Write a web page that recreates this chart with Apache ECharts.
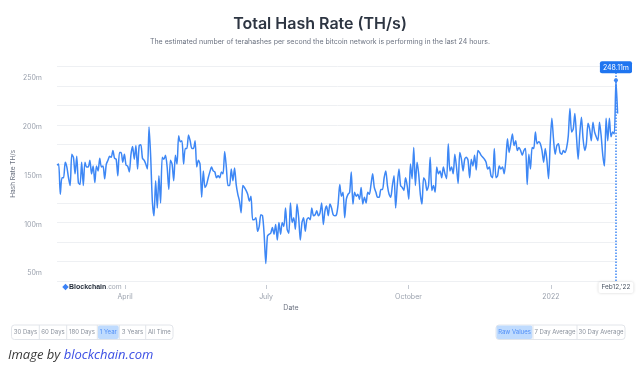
<!DOCTYPE html>
<html><head><meta charset="utf-8">
<script src="https://cdn.jsdelivr.net/npm/echarts@6/dist/echarts.min.js"></script>
<style>html,body{margin:0;padding:0;background:#fff}#c{width:640px;height:372px}</style>
</head><body><div id="c"></div>
<script>
// ---------- data ----------
const startDate = '2021-02-16';
const peakDate = '2022-02-12';
const hashRate = [
161,162,131,148,148,164,159,148,140,172,
169,152,170,143,141,164,140,164,159,159,
166,152,160,143,160,155,168,159,160,147,
162,166,170,169,176,168,167,150,174,174,
164,172,161,160,154,172,180,167,181,157,
181,182,168,166,162,157,200,169,124,109,
145,117,150,122,169,167,171,159,136,166,
162,145,171,162,191,185,186,162,178,178,
192,186,178,178,186,159,166,162,128,
155,138,141,148,154,159,155,154,148,150,
148,154,152,175,159,140,140,157,145,158,
141,131,124,112,140,138,135,131,124,129,
105,105,107,93,98,110,109,90,60,88,
90,91,97,90,100,84,102,90,102,98,
117,95,91,122,102,107,95,121,107,84,
102,107,93,105,107,105,117,109,110,114,
109,112,122,100,114,119,109,121,117,110,
109,110,121,141,129,133,107,126,131,
133,154,121,133,129,131,126,138,121,128,
122,133,131,141,152,138,133,128,128,136,
136,148,155,140,131,128,140,150,117,141,
157,140,138,135,148,140,126,162,147,
179,140,164,152,131,121,148,145,135,140,
169,135,140,133,159,152,155,148,159,152,
147,183,155,159,152,172,159,142,174,167,
155,167,169,166,148,167,160,171,156,176,
174,171,169,167,164,157,159,150,
148,178,148,150,160,157,159,152,166,188,
174,183,193,181,186,176,179,176,171,176,
178,141,172,157,179,178,195,183,185,183,
176,164,178,166,147,183,209,188,172,181,
183,174,172,176,174,179,191,219,195,198,
214,190,167,193,210,188,176,183,204,198,
186,205,195,190,186,205,191,171,160,209,
186,209,190,195,193,
248.11,214
];
const yLabelValues = [50, 100, 150, 200, 250];
const xTickDates = ['2021-04-01', '2021-07-01', '2021-10-01', '2022-01-01'];
const xTickLabels = ['April', 'July', 'October', '2022'];
const peakLabel = '248.11m';
const peakDateLabel = "Feb12,'22";
const rangeButtons = ['30 Days', '60 Days', '180 Days', '1 Year', '3 Years', 'All Time'];
const averageButtons = ['Raw Values', '7 Day Average', '30 Day Average'];

// ---------- build ----------
const toT = d => Date.parse(d + 'T00:00:00Z');
const t0 = toT(startDate), tPeak = toT(peakDate);
const peakIndex = hashRate.length - 2;
const step = (tPeak - t0) / peakIndex;
const seriesData = hashRate.map((v, i) => [t0 + i * step, v]);
const tEnd = t0 + (hashRate.length - 1) * step;
const tickTimes = xTickDates.map(toT);
const yMin = 42, yMax = 262;

function nearestLabel(v) {
  let best = 0, bd = Infinity;
  tickTimes.forEach((t, i) => { const d = Math.abs(t - v); if (d < bd) { bd = d; best = i; } });
  return bd < 86400000 * 2 ? xTickLabels[best] : '';
}

function buttonGroup(labels, edges, selected, y, h) {
  const els = [];
  els.push({ type: 'rect', shape: { x: edges[0], y: y, width: edges[edges.length - 1] - edges[0], height: h, r: 3 },
    style: { fill: '#fff', stroke: '#e2e5ea', lineWidth: 1 } });
  labels.forEach((lab, i) => {
    const x0 = edges[i], x1 = edges[i + 1];
    if (i === selected) {
      els.push({ type: 'rect', shape: { x: x0 + 0.5, y: y + 0.5, width: x1 - x0 - 1, height: h - 1, r: 2 },
        style: { fill: '#bfdbfe' } });
    }
    if (i > 0) {
      els.push({ type: 'line', shape: { x1: x0, y1: y, x2: x0, y2: y + h }, style: { stroke: '#e2e5ea', lineWidth: 1 } });
    }
    els.push({ type: 'text', x: (x0 + x1) / 2, y: y + h / 2,
      style: { text: lab, align: 'center', verticalAlign: 'middle', fontSize: 6, fontFamily: 'Inter',
        fill: i === selected ? '#4f8ef7' : '#8a919c' } });
  });
  return els;
}

const chart = echarts.init(document.getElementById('c'), null, { renderer: 'canvas' });
chart.setOption({
  animation: false,
  backgroundColor: '#fff',
  textStyle: { fontFamily: 'Inter' },
  title: {
    text: 'Total Hash Rate (TH/s)',
    subtext: 'The estimated number of terahashes per second the bitcoin network is performing in the last 24 hours.',
    left: 'center', top: 11, itemGap: 6,
    textStyle: { fontSize: 16, fontWeight: 600, color: '#2d3542', fontFamily: 'Inter' },
    subtextStyle: { fontSize: 7, color: '#6b7280', fontFamily: 'Inter' }
  },
  grid: { left: 57, right: 22.4, top: 66.7, bottom: 91, containLabel: false, outerBoundsMode: 'none' },
  xAxis: {
    type: 'value', min: t0, max: tEnd, offset: 4,
    axisLine: { show: false },
    splitLine: { show: false },
    axisTick: { show: true, customValues: tickTimes, length: 4, lineStyle: { color: '#c5cad2' } },
    axisLabel: { customValues: tickTimes, formatter: v => nearestLabel(v), color: '#9aa1ad', fontSize: 7, margin: 8, fontFamily: 'Inter' }
  },
  yAxis: [
    {
      type: 'value', min: yMin, max: yMax, interval: 20,
      axisLine: { show: false }, axisTick: { show: false }, axisLabel: { show: false },
      splitLine: { show: true, lineStyle: { color: '#eef0f3', width: 1 } }
    },
    {
      type: 'value', min: yMin, max: yMax, position: 'left',
      axisLine: { show: false }, axisTick: { show: false }, splitLine: { show: false },
      axisLabel: { customValues: yLabelValues, formatter: v => v + 'm', color: '#9aa1ad', fontSize: 7, margin: 15, fontFamily: 'Inter' },
      name: 'Hash Rate TH/s', nameLocation: 'middle', nameRotate: 90, nameGap: 40, nameMoveOverlap: false,
      nameTextStyle: { fontSize: 6.5, color: '#6b7280', fontFamily: 'Inter' }
    }
  ],
  series: [{
    type: 'line', data: seriesData, yAxisIndex: 0, showSymbol: false, smooth: 0.25,
    lineStyle: { color: '#3d87f5', width: 1.5 }, itemStyle: { color: '#3d87f5' },
    markLine: {
      silent: true, symbol: ['none', 'none'], label: { show: false },
      lineStyle: { type: 'dotted', color: '#3d87f5', width: 1.5 },
      data: [{ xAxis: tPeak }]
    },
    markPoint: {
      silent: true,
      data: [
        { coord: [tPeak, hashRate[peakIndex]], symbol: 'circle', symbolSize: 4, itemStyle: { color: '#3d87f5' },
          label: { show: true, formatter: peakLabel, position: 'top', distance: 5, backgroundColor: '#1f75f0',
            color: '#fff', fontSize: 7, padding: [3, 3, 2, 3], borderRadius: 2, fontFamily: 'Inter' } },
        { coord: [tPeak, yMin], symbol: 'circle', symbolSize: 0,
          label: { show: true, formatter: peakDateLabel, position: 'bottom', distance: 1, backgroundColor: '#fff',
            color: '#4b5563', fontSize: 6.5, padding: [2, 3], borderRadius: 2, shadowBlur: 3,
            shadowColor: 'rgba(0,0,0,0.18)', fontFamily: 'Inter' } }
      ]
    }
  }],
  graphic: [
    { type: 'rect', x: 65.5, y: 287, rotation: Math.PI / 4, shape: { x: -2.3, y: -2.3, width: 4.6, height: 4.6 },
      style: { fill: '#3b82f6' } },
    { type: 'text', x: 69, y: 287,
      style: { text: '{b|Blockchain}{c|.com}', verticalAlign: 'middle', fontFamily: 'Inter',
        rich: { b: { fontSize: 7, fontWeight: 700, fill: '#1f2937' }, c: { fontSize: 7, fill: '#a3a9b4' } } } },
    { type: 'text', x: 291, y: 308,
      style: { text: 'Date', align: 'center', verticalAlign: 'middle', fontSize: 7, fill: '#6b7280', fontFamily: 'Inter' } },
    ...buttonGroup(rangeButtons, [11.5, 39.3, 66.7, 97.3, 119.3, 145.7, 173], 3, 325, 14.5),
    ...buttonGroup(averageButtons, [496, 533, 577, 625], 0, 325, 14.5),
    { type: 'text', x: 8, y: 355,
      style: { text: '{a|Image by }{b|blockchain.com}', verticalAlign: 'middle',
        rich: { a: { fontSize: 13, fontStyle: 'italic', fill: '#3a3a3a', fontFamily: 'Open Sans' },
                b: { fontSize: 13, fontStyle: 'italic', fill: '#3b4fe4', fontFamily: 'Open Sans' } } } }
  ]
});
</script>
</body></html>
